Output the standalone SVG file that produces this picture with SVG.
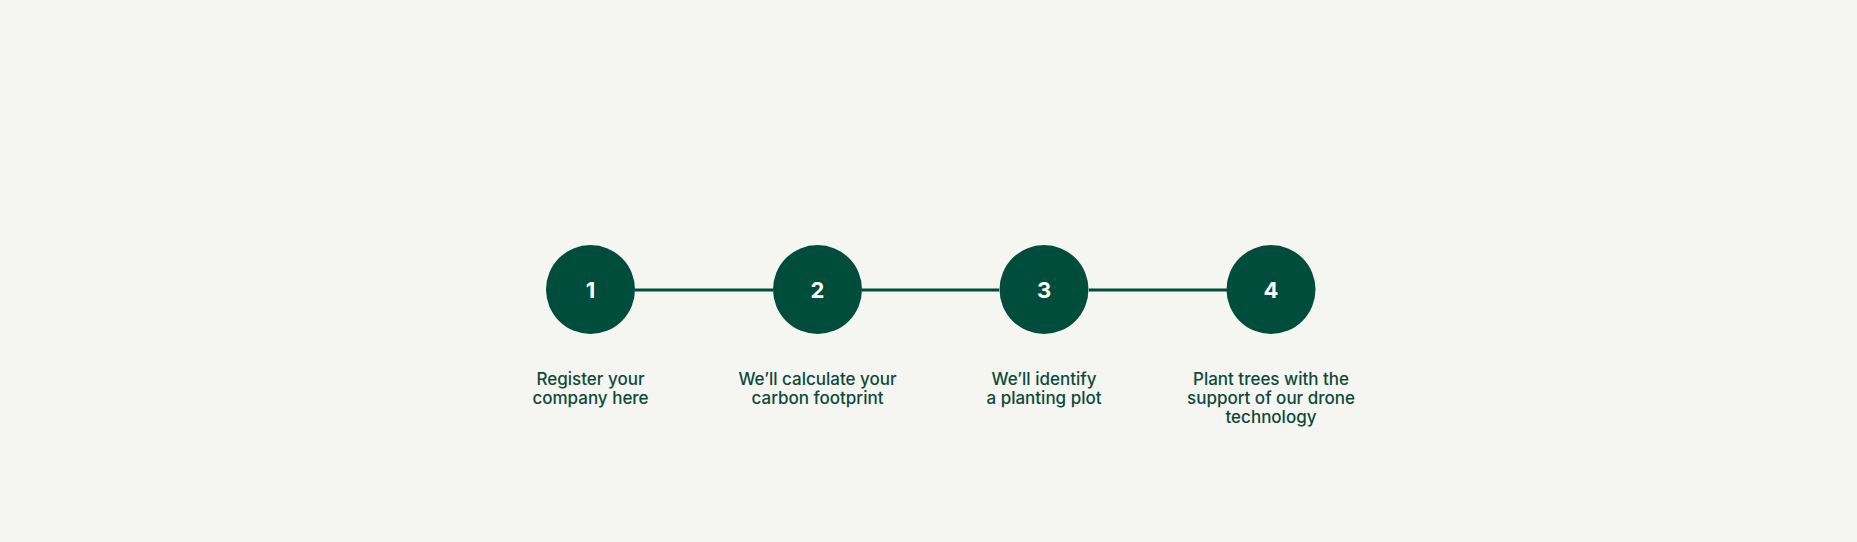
<svg xmlns="http://www.w3.org/2000/svg" width="1857" height="542" viewBox="0 0 1857 542">
<style>
.n{fill:#014d3b}
.num{fill:#ffffff;font-family:Inter,"Noto Sans",sans-serif;font-weight:700;font-size:22px;text-anchor:middle}
.lbl{fill:#0d4a3b;font-family:Inter,"Noto Sans",sans-serif;font-weight:500;font-size:17px;text-anchor:middle}
.c{stroke:#014d3b;stroke-width:3;fill:none}
</style>
<rect width="1857" height="542" fill="#f5f5f1"/>
<g id="connectors">
<line class="c" x1="635" y1="290" x2="773" y2="290"/>
<line class="c" x1="862" y1="290" x2="999" y2="290"/>
<line class="c" x1="1089" y1="290" x2="1227" y2="290"/>
</g>
<g id="step1"><circle class="n" cx="590.5" cy="289.5" r="44.5"/><text class="num" x="590.5" y="297.5">1</text>
<text class="lbl" x="590.5" y="385">Register your</text><text class="lbl" x="590.5" y="404">company here</text></g>
<g id="step2"><circle class="n" cx="817.5" cy="289.5" r="44.5"/><text class="num" x="817.5" y="297.5">2</text>
<text class="lbl" x="817.5" y="385">We’ll calculate your</text><text class="lbl" x="817.5" y="404">carbon footprint</text></g>
<g id="step3"><circle class="n" cx="1044" cy="289.5" r="44.5"/><text class="num" x="1044" y="297.5">3</text>
<text class="lbl" x="1044" y="385">We’ll identify</text><text class="lbl" x="1044" y="404">a planting plot</text></g>
<g id="step4"><circle class="n" cx="1271" cy="289.5" r="44.5"/><text class="num" x="1271" y="297.5">4</text>
<text class="lbl" x="1271" y="385">Plant trees with the</text><text class="lbl" x="1271" y="404">support of our drone</text><text class="lbl" x="1271" y="423">technology</text></g>
</svg>
